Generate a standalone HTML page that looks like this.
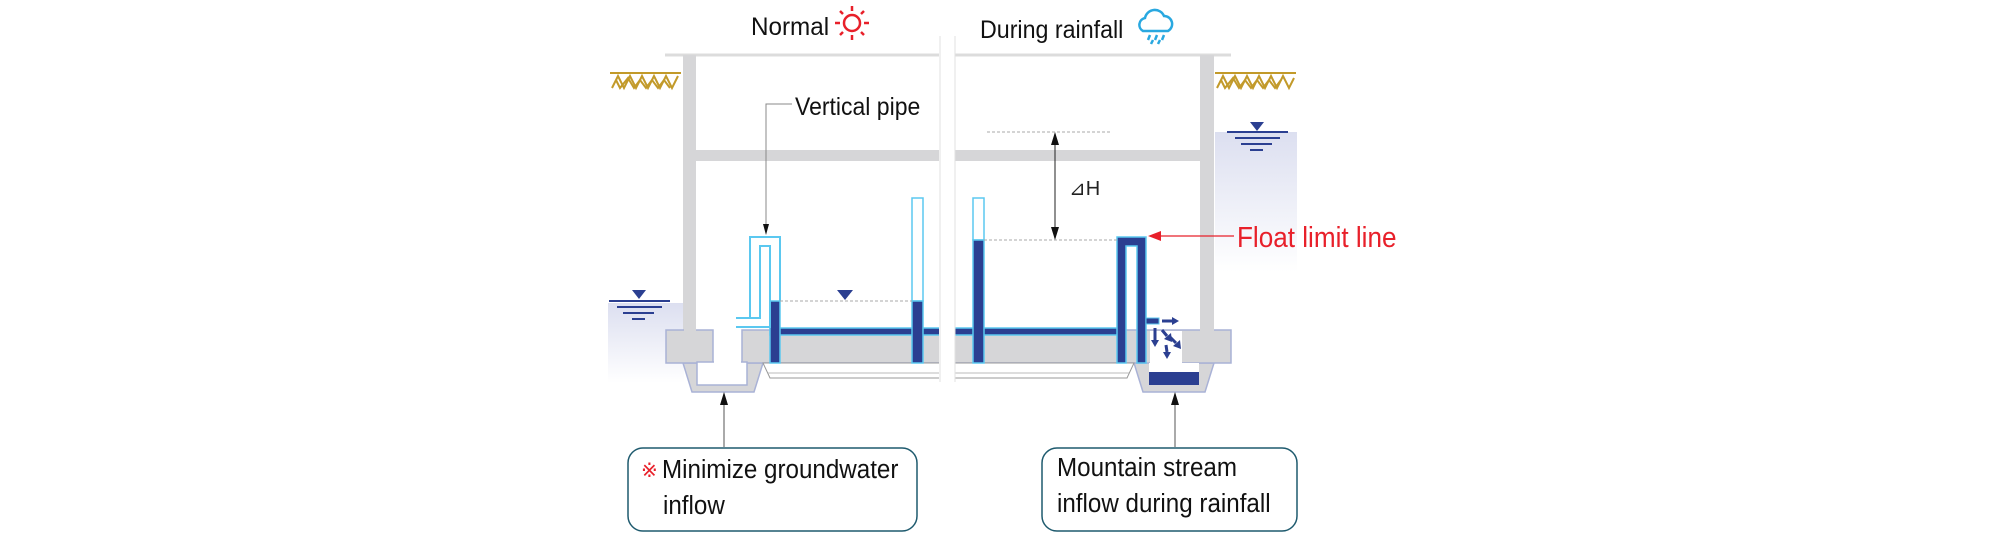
<!DOCTYPE html>
<html><head><meta charset="utf-8"><style>
html,body{margin:0;padding:0;background:#fff;}
svg{display:block;}
text{font-family:"Liberation Sans",sans-serif;}
</style></head><body>
<svg width="2008" height="534" viewBox="0 0 2008 534" xmlns="http://www.w3.org/2000/svg">
<defs>
<linearGradient id="wg" x1="0" y1="0" x2="0" y2="1">
<stop offset="0" stop-color="#dcdff0"/><stop offset="1" stop-color="#ffffff"/>
</linearGradient>
</defs>
<rect x="608" y="303" width="76" height="80" fill="url(#wg)"/>
<rect x="1215" y="132" width="82" height="140" fill="url(#wg)"/>
<g fill="#2b3f91" stroke="#2b3f91">
<polygon points="632,290 646,290 639,299" stroke="none"/>
<line x1="609" y1="301" x2="670" y2="301" stroke-width="2"/>
<line x1="617" y1="307" x2="662" y2="307" stroke-width="2"/>
<line x1="623" y1="313" x2="654" y2="313" stroke-width="2"/>
<line x1="632" y1="319" x2="645" y2="319" stroke-width="2"/>
<polygon points="1250,122 1264,122 1257,131" stroke="none"/>
<line x1="1227" y1="132" x2="1288" y2="132" stroke-width="2"/>
<line x1="1235" y1="138" x2="1280" y2="138" stroke-width="2"/>
<line x1="1241" y1="144" x2="1272" y2="144" stroke-width="2"/>
<line x1="1250" y1="150" x2="1263" y2="150" stroke-width="2"/>
</g>
<g stroke="#c29a2a" stroke-width="2" fill="none">
<line x1="610" y1="73" x2="681" y2="73"/>
<polyline points="612,88 618,76 624,88 630,76 636,88 642,76 648,88 654,76 660,88 666,76 672,88 678,76"/>
<polyline points="616,80 620,88 628,78 634,88 640,80 646,88 652,80 658,88 664,80 670,88"/>
<line x1="1215" y1="73" x2="1296" y2="73"/>
<polyline points="1217,88 1223,76 1229,88 1235,76 1241,88 1247,76 1253,88 1259,76 1265,88 1271,76 1277,88 1283,76 1289,88 1294,78"/>
<polyline points="1221,80 1225,88 1233,78 1239,88 1245,80 1251,88 1257,80 1263,88 1269,80 1275,88 1281,80"/>
</g>
<line x1="665" y1="55" x2="1231" y2="55" stroke="#dcdcdc" stroke-width="3"/>
<rect x="683" y="55" width="13" height="276" fill="#d6d6d8"/>
<rect x="1200" y="55" width="14" height="276" fill="#d6d6d8"/>
<rect x="696" y="150" width="504" height="11" fill="#d6d6d8"/>
<g fill="#d6d6d8" stroke="#a9b2d6" stroke-width="1.5">
<polygon points="683,363 763,363 754,392 692,392"/>
<polygon points="1134,363 1214,363 1205,392 1143,392"/>
<rect x="666" y="330" width="47" height="33"/>
<rect x="742" y="330" width="489" height="33"/>
</g>
<rect x="684" y="329" width="12" height="3" fill="#d6d6d8"/>
<rect x="1200" y="329" width="14" height="3" fill="#d6d6d8"/>
<rect x="697" y="362" width="50" height="23" fill="#fff" stroke="#a9b2d6" stroke-width="1.5"/>
<rect x="714" y="329" width="27" height="36" fill="#fff"/>
<rect x="1150" y="331" width="32" height="40" fill="#fff"/>
<rect x="1149" y="363" width="50" height="10" fill="#fff"/>
<rect x="1149" y="372" width="50" height="13" fill="#2b3f91"/>
<polygon points="763,363 1134,363 1127,378 770,378" fill="#fff" stroke="#999" stroke-width="1"/>
<line x1="768" y1="373" x2="1129" y2="373" stroke="#bbb" stroke-width="1"/>
<g>
<rect x="770" y="328" width="349" height="7" fill="#2b3f91" stroke="#5bc8f0" stroke-width="1.5"/>
<rect x="770" y="301" width="10" height="62" fill="#2b3f91" stroke="#5bc8f0" stroke-width="1.5"/>
<rect x="912" y="198" width="11" height="103" fill="#fff" stroke="#5bc8f0" stroke-width="1.5"/>
<rect x="912" y="301" width="11" height="62" fill="#2b3f91" stroke="#5bc8f0" stroke-width="1.5"/>
<rect x="973" y="198" width="11" height="42" fill="#fff" stroke="#5bc8f0" stroke-width="1.5"/>
<rect x="973" y="240" width="11" height="123" fill="#2b3f91" stroke="#5bc8f0" stroke-width="1.5"/>
<path d="M1117,363 V237 H1146 V363 H1137 V246 H1126 V363 Z" fill="#2b3f91" stroke="#5bc8f0" stroke-width="1.5"/>
<rect x="1146" y="318" width="13" height="6" fill="#2b3f91" stroke="#5bc8f0" stroke-width="1"/>
<path d="M736,327 H770 V246 H760 V318 H750 V237 H780 V301" fill="none" stroke="#5bc8f0" stroke-width="2"/>
<line x1="736" y1="318" x2="750" y2="318" stroke="#5bc8f0" stroke-width="2"/>
</g>
<g stroke="#2b3f91" stroke-width="3" fill="#2b3f91">
<line x1="1162" y1="321" x2="1172" y2="321"/><polygon points="1172,317 1179,321 1172,325" stroke="none"/>
<line x1="1155" y1="328" x2="1155" y2="340"/><polygon points="1151,340 1159,340 1155,347" stroke="none"/>
<line x1="1162" y1="330" x2="1167" y2="336"/><polygon points="1164,339 1171,333 1172,342" stroke="none"/>
<line x1="1170" y1="337" x2="1176" y2="343"/><polygon points="1173,346 1180,340 1181,349" stroke="none"/>
<line x1="1166" y1="345" x2="1167" y2="352"/><polygon points="1163,352 1171,352 1167,359" stroke="none"/>
</g>
<rect x="939" y="36" width="16" height="346" fill="#fff"/>
<line x1="940" y1="36" x2="940" y2="382" stroke="#e2e2e2" stroke-width="1"/>
<line x1="955" y1="36" x2="955" y2="382" stroke="#e2e2e2" stroke-width="1"/>
<g stroke="#aaa" stroke-width="1" stroke-dasharray="3,2">
<line x1="780" y1="301" x2="912" y2="301"/>
<line x1="987" y1="132" x2="1112" y2="132"/>
<line x1="984" y1="240" x2="1117" y2="240"/>
</g>
<polygon points="837,290 853,290 845,300" fill="#2b3f91"/>
<line x1="1055" y1="140" x2="1055" y2="232" stroke="#222" stroke-width="1"/>
<polygon points="1051,145 1059,145 1055,132" fill="#111"/>
<polygon points="1051,227 1059,227 1055,240" fill="#111"/>
<text x="1069" y="195" font-size="20" fill="#222">⊿H</text>
<polyline points="792,104 766,104 766,228" fill="none" stroke="#888" stroke-width="1"/>
<polygon points="763,224 769,224 766,235" fill="#111"/>
<text x="795" y="115" font-size="25" fill="#111" transform="translate(795,0) scale(0.92,1) translate(-795,0)">Vertical pipe</text>
<line x1="1158" y1="236" x2="1234" y2="236" stroke="#e8202a" stroke-width="1.2"/>
<polygon points="1148,236 1161,231 1161,241" fill="#e8202a"/>
<text x="1237" y="247" font-size="29" fill="#e8202a" transform="translate(1237,0) scale(0.9,1) translate(-1237,0)">Float limit line</text>
<text x="751" y="35" font-size="25" fill="#111" transform="translate(751,0) scale(0.97,1) translate(-751,0)">Normal</text>
<g stroke="#e8202a" stroke-width="2.5" fill="none">
<circle cx="852" cy="23" r="8"/>
<line x1="852" y1="6" x2="852" y2="11"/><line x1="852" y1="35" x2="852" y2="40"/>
<line x1="835" y1="23" x2="840" y2="23"/><line x1="864" y1="23" x2="869" y2="23"/>
<line x1="840" y1="11" x2="843" y2="14"/><line x1="861" y1="32" x2="864" y2="35"/>
<line x1="864" y1="11" x2="861" y2="14"/><line x1="843" y1="32" x2="840" y2="35"/>
</g>
<text x="980" y="38" font-size="25" fill="#111" transform="translate(980,0) scale(0.93,1) translate(-980,0)">During rainfall</text>
<g stroke="#29a8e0" stroke-width="2.5" fill="none">
<path d="M1143,31 a7,7 0 0 1 2,-13 a10,10 0 0 1 19,-2 a8,8 0 0 1 4,15 Z"/>
<line x1="1150" y1="35" x2="1148" y2="40"/><line x1="1157" y1="35" x2="1155" y2="40"/><line x1="1164" y1="35" x2="1162" y2="40"/>
<line x1="1153" y1="40" x2="1151" y2="44"/><line x1="1160" y1="40" x2="1158" y2="44"/>
</g>
<line x1="724" y1="447" x2="724" y2="404" stroke="#555" stroke-width="1"/>
<polygon points="720,405 728,405 724,392" fill="#111"/>
<line x1="1175" y1="447" x2="1175" y2="404" stroke="#555" stroke-width="1"/>
<polygon points="1171,405 1179,405 1175,392" fill="#111"/>
<rect x="628" y="448" width="289" height="83" rx="15" fill="#fff" stroke="#1e5a6e" stroke-width="1.5"/>
<rect x="1042" y="448" width="255" height="83" rx="15" fill="#fff" stroke="#1e5a6e" stroke-width="1.5"/>
<text x="641" y="477" font-size="20" fill="#e8202a">※</text>
<text x="662" y="478" font-size="26" fill="#111" transform="translate(662,0) scale(0.93,1) translate(-662,0)">Minimize groundwater</text>
<text x="663" y="514" font-size="26" fill="#111" transform="translate(663,0) scale(0.93,1) translate(-663,0)">inflow</text>
<text x="1057" y="476" font-size="26" fill="#111" transform="translate(1057,0) scale(0.93,1) translate(-1057,0)">Mountain stream</text>
<text x="1057" y="512" font-size="26" fill="#111" transform="translate(1057,0) scale(0.93,1) translate(-1057,0)">inflow during rainfall</text>
</svg>
</body></html>
